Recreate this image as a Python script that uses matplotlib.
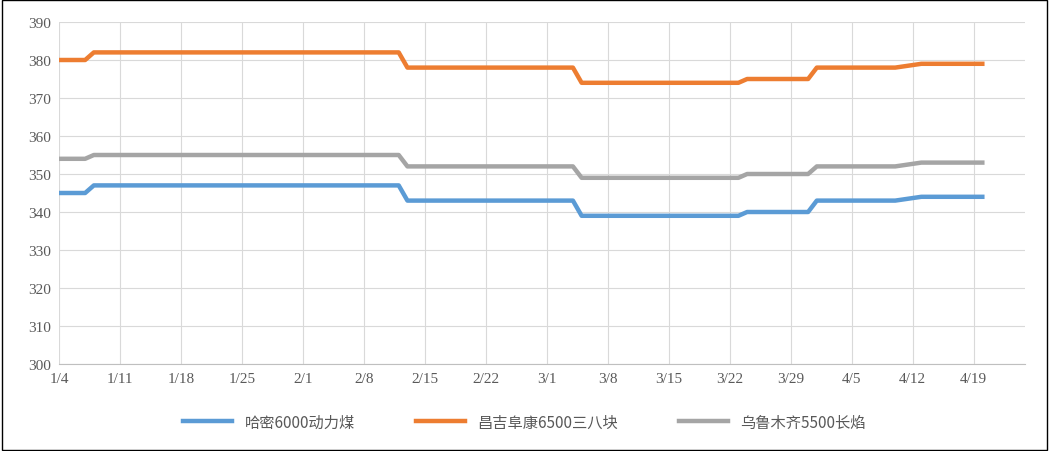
import matplotlib
matplotlib.use("Agg")
import matplotlib.pyplot as plt
import pandas as pd
from matplotlib.patches import Rectangle

dates = ["2021-01-04","2021-01-07","2021-01-08","2021-02-12","2021-02-13","2021-03-04","2021-03-05",
         "2021-03-23","2021-03-24","2021-03-31","2021-04-01","2021-04-10","2021-04-13","2021-04-20"]
hami = [345,345,347,347,343,343,339,339,340,340,343,343,344,344]
changji = [380,380,382,382,378,378,374,374,375,375,378,378,379,379]
wulu = [354,354,355,355,352,352,349,349,350,350,352,352,353,353]
names = ["哈密6000动力煤","昌吉阜康6500三八块","乌鲁木齐5500长焰"]
colors = ["#5B9BD5","#ED7D31","#A5A5A5"]

x = pd.to_datetime(dates)
fig = plt.figure(figsize=(10.49,4.52), dpi=100)
ax = fig.add_axes([59/1049, 1-365/452, (1025-59)/1049, (365-23)/452])
for s,n,c in zip([hami,changji,wulu],names,colors):
    ax.plot(x, s, color=c, lw=3.2, label=n, solid_joinstyle="round")
ax.set_ylim(300,390)
ax.set_yticks(range(300,391,10))
ax.set_xlim(pd.Timestamp("2021-01-04"), pd.Timestamp("2021-01-04")+pd.Timedelta(days=110.9))
ticks = pd.date_range("2021-01-04","2021-04-19",freq="7D")
ax.set_xticks(ticks)
ax.set_xticklabels([f"{d.month}/{d.day}" for d in ticks])
ax.grid(axis="both", color="#D9D9D9", lw=0.8)
ax.set_axisbelow(True)
for sp in ["top","right","left"]:
    ax.spines[sp].set_visible(False)
ax.spines["bottom"].set_color("#BFBFBF")
ax.tick_params(length=0, labelsize=11, colors="#595959", pad=6)
for l in ax.get_xticklabels()+ax.get_yticklabels():
    l.set_fontfamily("Liberation Serif")
fig.legend(loc="center", bbox_to_anchor=(0.5, 1-423/452), ncol=3, frameon=False,
           prop={"family":["Noto Sans CJK SC","DejaVu Sans"],"size":11}, handlelength=3.2, columnspacing=4)
for t in fig.legends[0].get_texts():
    t.set_color("#595959")
fig.patches.append(Rectangle((0.002,0.003),0.996,0.994, transform=fig.transFigure, fill=False, ec="black", lw=1))
fig.savefig("out.png", dpi=100)
